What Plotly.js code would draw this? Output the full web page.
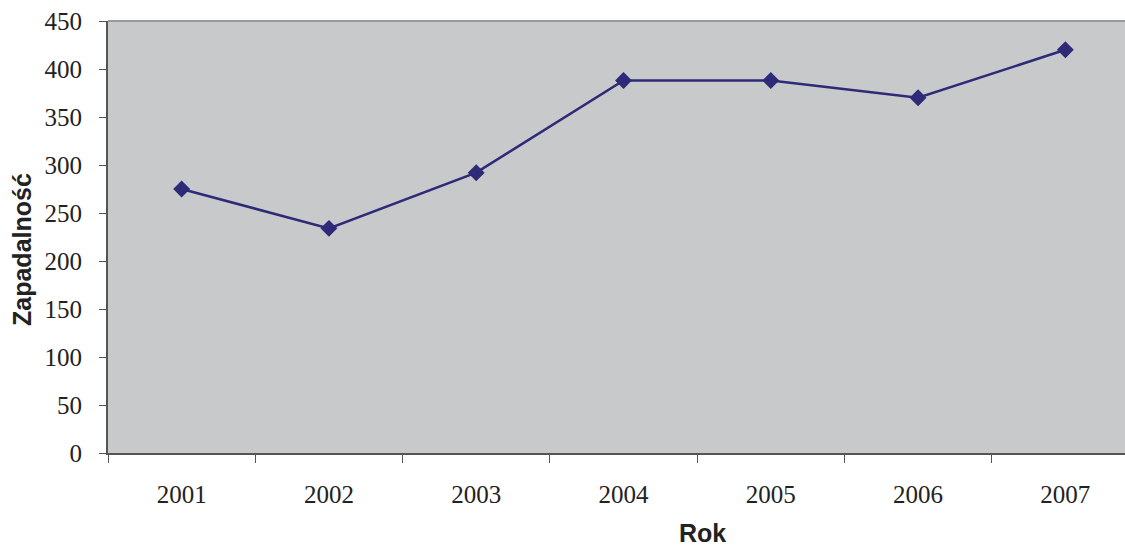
<!DOCTYPE html>
<html>
<head>
<meta charset="utf-8">
<script src="https://cdn.plot.ly/plotly-3.0.1.min.js"></script>
<style>
html,body{margin:0;padding:0;overflow:hidden;background:#fff;}
#chart{width:1140px;height:547px;}
</style>
</head>
<body>
<div id="chart"></div>
<script>
const years = ['2001','2002','2003','2004','2005','2006','2007'];
const values = [275, 234, 292, 388, 388, 370, 420];
const yTicks = [0,50,100,150,200,250,300,350,400,450];
const xTitle = 'Rok';
const yTitle = 'Zapadalność';

const trace = {
  x: years,
  y: values,
  type: 'scatter',
  mode: 'lines+markers',
  line: {color: '#2e2a78', width: 2.5},
  marker: {symbol: 'diamond', size: 13, color: '#2e2a78'},
  hoverinfo: 'x+y'
};

const titleFont = {family: 'Liberation Sans, Arial, sans-serif', size: 25, color: '#222', weight: 'bold'};

const layout = {
  width: 1140,
  height: 547,
  margin: {l: 108, r: 1, t: 21, b: 94},
  paper_bgcolor: '#ffffff',
  plot_bgcolor: '#c8c9cb',
  showlegend: false,
  xaxis: {
    type: 'category',
    range: [-0.5, 6.5],
    autorange: false,
    tickson: 'boundaries',
    ticks: 'outside',
    ticklen: 8,
    tickwidth: 1,
    tickcolor: '#555555',
    showline: true,
    linecolor: '#555555',
    linewidth: 2,
    showgrid: false,
    zeroline: false,
    ticklabelstandoff: 18,
    tickfont: {family: 'Liberation Serif, Times New Roman, serif', size: 25, color: '#222'}
  },
  yaxis: {
    range: [0, 450],
    autorange: false,
    tickvals: yTicks,
    ticktext: yTicks.map(String),
    ticks: 'outside',
    ticklen: 7,
    tickwidth: 1,
    tickcolor: '#555555',
    showline: true,
    linecolor: '#555555',
    linewidth: 2,
    showgrid: false,
    zeroline: false,
    ticklabelstandoff: 12,
    tickfont: {family: 'Liberation Serif, Times New Roman, serif', size: 25, color: '#222'}
  },
  annotations: [
    {text: xTitle, xref: 'paper', yref: 'paper', x: 0.577, y: -0.186, xanchor: 'center', yanchor: 'middle', showarrow: false, font: titleFont},
    {text: yTitle, xref: 'paper', yref: 'paper', x: -0.0834, y: 0.47, xanchor: 'center', yanchor: 'middle', textangle: -90, showarrow: false, font: titleFont}
  ],
  shapes: [
    {type: 'line', xref: 'paper', yref: 'paper', x0: 0, x1: 1, y0: 1, y1: 1, line: {color: '#999999', width: 2}}
  ]
};

Plotly.newPlot('chart', [trace], layout, {displayModeBar: false, staticPlot: true});
</script>
</body>
</html>
